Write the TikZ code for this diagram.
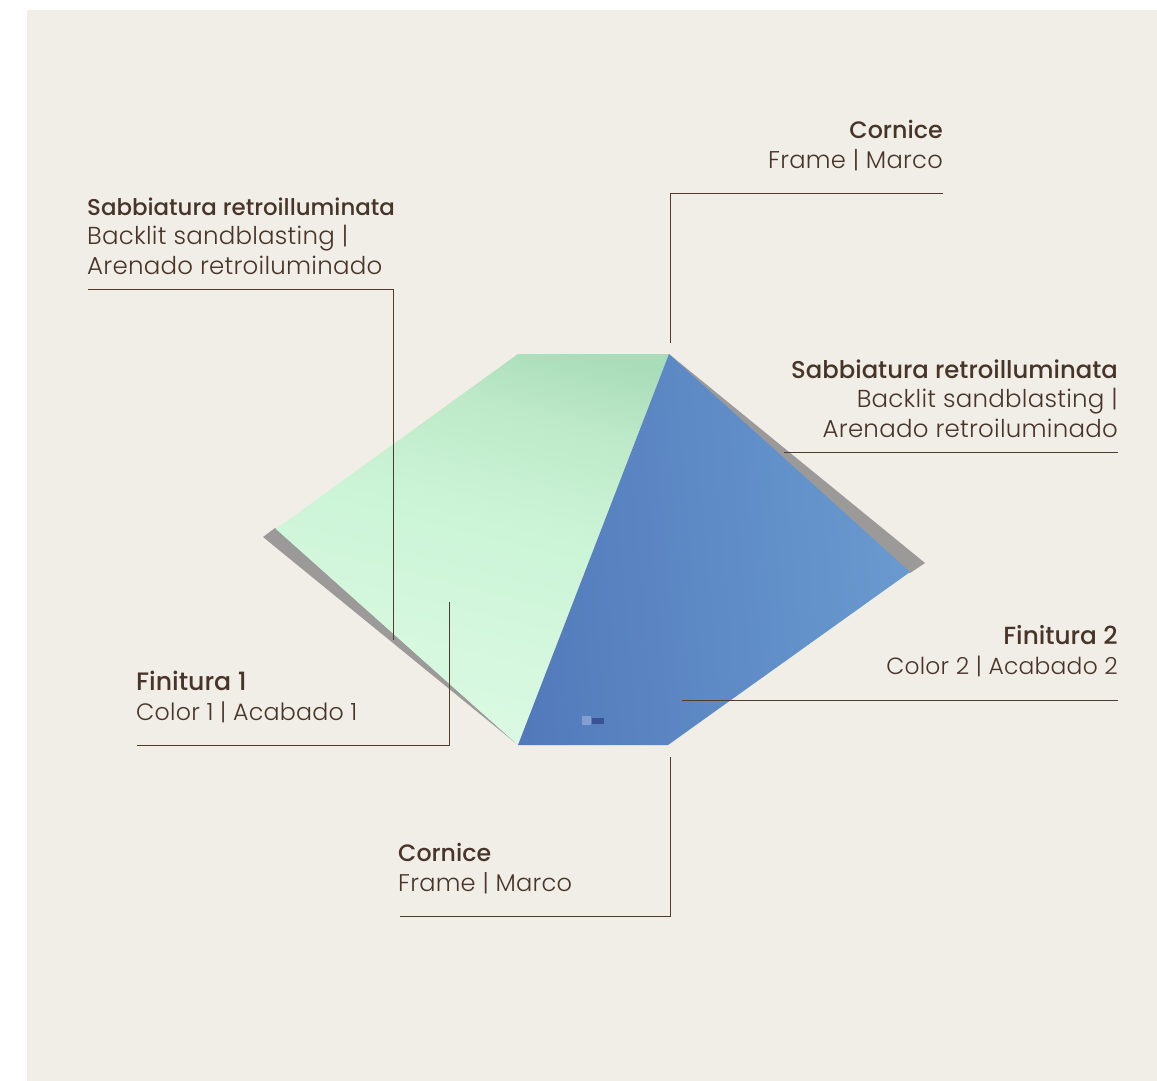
\documentclass[tikz,border=0pt]{standalone}
\usepackage{fontspec}
\setmainfont{Poppins Light}[LetterSpace=1]
\newfontfamily\medfont{Poppins Medium}
\definecolor{page}{HTML}{F1EDE7}
\definecolor{ink}{HTML}{47352A}
\definecolor{rulec}{HTML}{4F3A2C}
\definecolor{edge}{HTML}{9B9A99}
\definecolor{gfA}{HTML}{DCFAE4}
\definecolor{gfB}{HTML}{CBF4D6}
\definecolor{gfC}{HTML}{BEEAC9}
\definecolor{gfD}{HTML}{A9DCB9}
\pgfdeclareverticalshading{greenfade}{100bp}{
  color(0bp)=(gfA); color(33bp)=(gfA); color(51bp)=(gfB); color(59bp)=(gfC); color(65bp)=(gfD); color(100bp)=(gfD)}
\tikzset{
  lab/.style={text=ink,inner sep=0pt,font=\fontsize{24.5}{29.5}\selectfont},
  leader/.style={draw=rulec,line width=1pt},
}
\newcommand{\hd}[2]{{\medfont\fontsize{#1}{29.5}\selectfont #2}}
\newcommand{\bd}[2]{{\fontsize{#1}{29.5}\selectfont #2}}
\begin{document}
\begin{tikzpicture}[x=1pt,y=-1pt]
\useasboundingbox (0,0) rectangle (1157,1081);
\fill[white] (0,0) rectangle (1157,1081);
\fill[page] (27,10) rectangle (1157,1081);
% grey edges
\fill[edge] (263,537) -- (275,528) -- (518,745) -- cycle;
\fill[edge] (669,354) -- (925,563) -- (910,573) -- cycle;
% green pane
\begin{scope}
\clip (518,354) -- (669,354) -- (518,745) -- (276,529) -- cycle;
\shade[shading=greenfade,shading angle=-14] (150,200) rectangle (800,850);
\end{scope}
% blue pane
\begin{scope}
\clip (669,354) -- (910,572) -- (668,745) -- (518,745) -- cycle;
\shade[left color={rgb,255:red,82;green,122;blue,187},right color={rgb,255:red,106;green,155;blue,208},shading angle=95] (510,350) rectangle (920,750);
\end{scope}
\fill[gray!70!blue!30!white,opacity=.4] (582,716) rectangle (591,725);
\fill[black!70!blue,opacity=.35] (592,718) rectangle (604,724);
% labels
\node[lab,anchor=base east,align=right] (t1) at (943,168) {\hd{23.8}{Cornice}\\\bd{24.2}{Frame | Marco}};
\node[lab,anchor=base west,align=left] (t2) at (87,274) {\hd{22.9}{Sabbiatura retroilluminata}\\Backlit sandblasting |\\Arenado retroiluminado};
\node[lab,anchor=base east,align=right] (t3) at (1118,437) {\hd{24.3}{Sabbiatura retroilluminata}\\Backlit sandblasting |\\Arenado retroiluminado};
\node[lab,anchor=base east,align=right] (t4) at (1118,674) {\hd{24.8}{Finitura 2}\\\bd{23.4}{Color 2 | Acabado 2}};
\node[lab,anchor=base west,align=left] (t5) at (136,720) {\hd{25.2}{Finitura 1}\\\bd{23.7}{Color 1 | Acabado 1}};
\node[lab,anchor=base west,align=left] (t6) at (398,891) {\hd{23.7}{Cornice}\\\bd{24.1}{Frame | Marco}};
% leader ends
\coordinate (c1a) at (943,193.5); \coordinate (c1b) at (670.5,193.5); \coordinate (c1c) at (670.5,343);
\coordinate (c2a) at (88,289.5); \coordinate (c2b) at (393.5,289.5); \coordinate (c2c) at (393.5,640);
\coordinate (c3a) at (1118,452.5); \coordinate (c3b) at (784,452.5);
\coordinate (c4a) at (1118,700.5); \coordinate (c4b) at (682,700.5);
\coordinate (c5a) at (137,745.5); \coordinate (c5b) at (449.5,745.5); \coordinate (c5c) at (449.5,602);
\coordinate (c6a) at (400,916.5); \coordinate (c6b) at (670.5,916.5); \coordinate (c6c) at (670.5,757);
\draw[leader] (c1a) -- (c1b) -- (c1c);
\draw[leader] (c2a) -- (c2b) -- (c2c);
\draw[leader] (c3a) -- (c3b);
\draw[leader] (c4a) -- (c4b);
\draw[leader] (c5a) -- (c5b) -- (c5c);
\draw[leader] (c6a) -- (c6b) -- (c6c);
\end{tikzpicture}
\end{document}
